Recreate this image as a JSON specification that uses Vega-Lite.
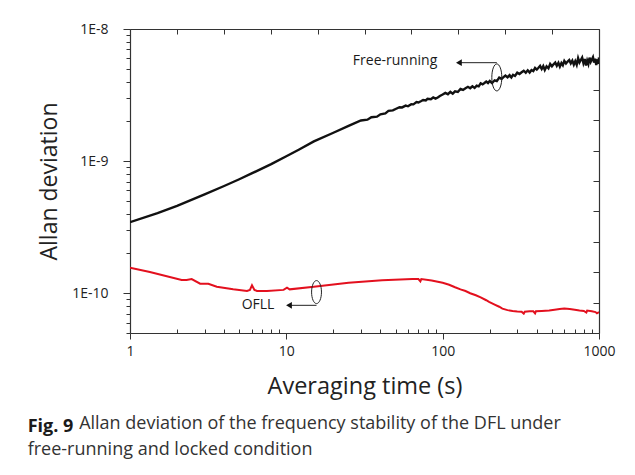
{
  "$schema": "https://vega.github.io/schema/vega-lite/v6.json",
  "width": 469,
  "height": 304,
  "autosize": {"type": "pad"},
  "padding": {"left": 27, "top": 22, "right": 5, "bottom": 5},
  "background": "white",
  "config": {
    "view": {"stroke": null},
    "font": "Open Sans",
    "axis": {"grid": false, "domainColor": "#333", "domainWidth": 1.2, "tickColor": "#333", "tickWidth": 1, "labelColor": "#222", "titleColor": "#222", "labelFont": "Open Sans", "titleFont": "Open Sans", "titleFontWeight": "normal", "labelOverlap": false, "labelFlush": false, "labelBound": false}
  },
  "title": {
    "text": "Fig. 9",
    "subtitle": ["\u200b\u00a0\u00a0\u00a0\u00a0\u00a0\u00a0\u00a0\u00a0\u00a0\u00a0\u00a0Allan deviation of the frequency stability of the DFL under", "free-running and locked condition"],
    "orient": "bottom",
    "anchor": "start",
    "frame": "bounds",
    "dx": -11,
    "offset": 20,
    "font": "Open Sans",
    "fontSize": 18,
    "fontWeight": "bold",
    "color": "#1a1a1a",
    "subtitleFont": "Open Sans",
    "subtitleFontSize": 18,
    "subtitleColor": "#333",
    "subtitleLineHeight": 26,
    "subtitlePadding": -21
  },
  "datasets": {
    "free": [
      {"t": 1, "adev": 3.45e-10}, {"t": 1.5, "adev": 4.04e-10}, {"t": 2, "adev": 4.58e-10}, {"t": 3, "adev": 5.61e-10},
      {"t": 4, "adev": 6.48e-10}, {"t": 5, "adev": 7.29e-10}, {"t": 6, "adev": 8.07e-10}, {"t": 8, "adev": 9.48e-10},
      {"t": 10, "adev": 1.089e-9}, {"t": 12, "adev": 1.22e-9}, {"t": 15, "adev": 1.41e-9}, {"t": 20, "adev": 1.64e-9},
      {"t": 25, "adev": 1.85e-9}, {"t": 30, "adev": 2.03e-9}, {"t": 33, "adev": 2.06e-9}, {"t": 35, "adev": 2.15e-9},
      {"t": 38, "adev": 2.17e-9}, {"t": 40, "adev": 2.26e-9}, {"t": 43, "adev": 2.3e-9}, {"t": 45, "adev": 2.4e-9},
      {"t": 48, "adev": 2.42e-9}, {"t": 50, "adev": 2.48e-9}, {"t": 53, "adev": 2.56e-9}, {"t": 55, "adev": 2.55e-9},
      {"t": 58, "adev": 2.63e-9}, {"t": 60, "adev": 2.6e-9}, {"t": 63, "adev": 2.7e-9}, {"t": 65, "adev": 2.69e-9},
      {"t": 68, "adev": 2.8e-9}, {"t": 70, "adev": 2.78e-9}, {"t": 73, "adev": 2.85e-9}, {"t": 75, "adev": 2.9e-9},
      {"t": 78, "adev": 2.88e-9}, {"t": 80, "adev": 2.96e-9}, {"t": 84, "adev": 2.94e-9}, {"t": 87, "adev": 3.03e-9},
      {"t": 90, "adev": 2.97e-9}, {"t": 93, "adev": 3.03e-9}, {"t": 96, "adev": 3.11e-9}, {"t": 100, "adev": 3.19e-9},
      {"t": 104, "adev": 3.28e-9}, {"t": 108, "adev": 3.21e-9}, {"t": 112, "adev": 3.34e-9}, {"t": 116, "adev": 3.24e-9},
      {"t": 120, "adev": 3.37e-9}, {"t": 125, "adev": 3.34e-9}, {"t": 130, "adev": 3.52e-9}, {"t": 135, "adev": 3.46e-9},
      {"t": 140, "adev": 3.56e-9}, {"t": 145, "adev": 3.65e-9}, {"t": 150, "adev": 3.56e-9}, {"t": 155, "adev": 3.68e-9},
      {"t": 160, "adev": 3.58e-9}, {"t": 165, "adev": 3.73e-9}, {"t": 170, "adev": 3.68e-9}, {"t": 175, "adev": 3.88e-9},
      {"t": 180, "adev": 3.81e-9}, {"t": 185, "adev": 3.9e-9}, {"t": 190, "adev": 4.0e-9}, {"t": 195, "adev": 3.9e-9},
      {"t": 200, "adev": 4.04e-9}, {"t": 207, "adev": 3.9e-9}, {"t": 215, "adev": 4.09e-9}, {"t": 222, "adev": 4.03e-9},
      {"t": 230, "adev": 4.29e-9}, {"t": 238, "adev": 4.19e-9}, {"t": 245, "adev": 4.32e-9}, {"t": 252, "adev": 4.44e-9},
      {"t": 260, "adev": 4.3e-9}, {"t": 268, "adev": 4.47e-9}, {"t": 275, "adev": 4.3e-9}, {"t": 282, "adev": 4.5e-9},
      {"t": 290, "adev": 4.41e-9}, {"t": 300, "adev": 4.67e-9}, {"t": 310, "adev": 4.56e-9}, {"t": 320, "adev": 4.7e-9},
      {"t": 330, "adev": 4.83e-9}, {"t": 340, "adev": 4.67e-9}, {"t": 350, "adev": 4.87e-9}, {"t": 360, "adev": 4.68e-9},
      {"t": 370, "adev": 4.89e-9}, {"t": 380, "adev": 4.8e-9}, {"t": 390, "adev": 5.07e-9}, {"t": 400, "adev": 4.93e-9},
      {"t": 410, "adev": 5.09e-9}, {"t": 420, "adev": 5.26e-9}, {"t": 430, "adev": 4.98e-9}, {"t": 440, "adev": 5.24e-9},
      {"t": 450, "adev": 4.9e-9}, {"t": 462, "adev": 5.22e-9}, {"t": 475, "adev": 5.04e-9}, {"t": 487, "adev": 5.44e-9},
      {"t": 500, "adev": 5.22e-9}, {"t": 512, "adev": 5.4e-9}, {"t": 525, "adev": 5.57e-9}, {"t": 537, "adev": 5.27e-9},
      {"t": 550, "adev": 5.55e-9}, {"t": 562, "adev": 5.19e-9}, {"t": 575, "adev": 5.52e-9}, {"t": 587, "adev": 5.32e-9},
      {"t": 600, "adev": 5.74e-9}, {"t": 615, "adev": 5.49e-9}, {"t": 630, "adev": 5.67e-9}, {"t": 645, "adev": 5.83e-9},
      {"t": 660, "adev": 5.5e-9}, {"t": 675, "adev": 5.76e-9}, {"t": 690, "adev": 5.37e-9}, {"t": 705, "adev": 5.71e-9},
      {"t": 720, "adev": 5.36e-9}, {"t": 735, "adev": 6.01e-9}, {"t": 750, "adev": 5.58e-9}, {"t": 765, "adev": 5.83e-9},
      {"t": 780, "adev": 6.08e-9}, {"t": 795, "adev": 5.52e-9}, {"t": 810, "adev": 5.93e-9}, {"t": 825, "adev": 5.3e-9},
      {"t": 840, "adev": 5.78e-9}, {"t": 855, "adev": 5.43e-9}, {"t": 870, "adev": 6.07e-9}, {"t": 885, "adev": 5.64e-9},
      {"t": 900, "adev": 5.88e-9}, {"t": 915, "adev": 6.12e-9}, {"t": 930, "adev": 5.57e-9}, {"t": 945, "adev": 5.97e-9},
      {"t": 960, "adev": 5.33e-9}, {"t": 975, "adev": 5.81e-9}, {"t": 990, "adev": 5.45e-9}, {"t": 1000, "adev": 6.09e-9}
    ],
    "ofll": [
      {"t": 1, "adev": 1.56e-10}, {"t": 1.34, "adev": 1.45e-10}, {"t": 2.14, "adev": 1.26e-10}, {"t": 2.3, "adev": 1.26e-10},
      {"t": 2.48, "adev": 1.28e-10}, {"t": 2.81, "adev": 1.18e-10}, {"t": 3.17, "adev": 1.18e-10}, {"t": 3.59, "adev": 1.12e-10},
      {"t": 4.57, "adev": 1.07e-10}, {"t": 5.6, "adev": 1.04e-10}, {"t": 5.85, "adev": 1.06e-10}, {"t": 6.03, "adev": 1.15e-10},
      {"t": 6.25, "adev": 1.06e-10}, {"t": 6.49, "adev": 1.04e-10}, {"t": 7.52, "adev": 1.04e-10}, {"t": 9.6, "adev": 1.06e-10},
      {"t": 10.1, "adev": 1.1e-10}, {"t": 10.5, "adev": 1.07e-10}, {"t": 15, "adev": 1.12e-10}, {"t": 25, "adev": 1.2e-10},
      {"t": 41, "adev": 1.255e-10}, {"t": 64, "adev": 1.28e-10}, {"t": 70, "adev": 1.28e-10}, {"t": 72, "adev": 1.23e-10},
      {"t": 73, "adev": 1.28e-10}, {"t": 85, "adev": 1.25e-10}, {"t": 100, "adev": 1.2e-10}, {"t": 110, "adev": 1.16e-10},
      {"t": 120, "adev": 1.11e-10}, {"t": 130, "adev": 1.07e-10}, {"t": 140, "adev": 1.04e-10}, {"t": 150, "adev": 1.0e-10},
      {"t": 163, "adev": 9.66e-11}, {"t": 175, "adev": 9.3e-11}, {"t": 190, "adev": 8.85e-11}, {"t": 198, "adev": 8.6e-11},
      {"t": 215, "adev": 8.2e-11}, {"t": 230, "adev": 7.9e-11}, {"t": 241, "adev": 7.65e-11}, {"t": 260, "adev": 7.45e-11},
      {"t": 280, "adev": 7.35e-11}, {"t": 300, "adev": 7.28e-11}, {"t": 320, "adev": 7.25e-11}, {"t": 330, "adev": 7.0e-11},
      {"t": 335, "adev": 7.25e-11}, {"t": 360, "adev": 7.3e-11}, {"t": 380, "adev": 7.3e-11}, {"t": 390, "adev": 7.05e-11},
      {"t": 395, "adev": 7.3e-11}, {"t": 430, "adev": 7.35e-11}, {"t": 480, "adev": 7.4e-11}, {"t": 520, "adev": 7.5e-11},
      {"t": 560, "adev": 7.6e-11}, {"t": 600, "adev": 7.65e-11}, {"t": 650, "adev": 7.6e-11}, {"t": 700, "adev": 7.5e-11},
      {"t": 750, "adev": 7.4e-11}, {"t": 800, "adev": 7.35e-11}, {"t": 830, "adev": 7.15e-11}, {"t": 840, "adev": 7.4e-11},
      {"t": 900, "adev": 7.3e-11}, {"t": 950, "adev": 7.2e-11}, {"t": 970, "adev": 7.05e-11}, {"t": 1000, "adev": 7.2e-11}
    ]
  },
  "layer": [
    {
      "layer": [
        {
          "data": {"name": "ofll"},
          "mark": {"type": "line", "color": "#e3101e", "strokeWidth": 2, "clip": true},
          "encoding": {
            "x": {"field": "t", "type": "quantitative", "scale": {"type": "log", "domain": [1, 1000], "nice": false},
              "axis": {"orient": "bottom", "title": "Averaging time (s)", "titleFontSize": 23.5, "titlePadding": 16,
                "values": [1,2,3,4,5,6,7,8,9,10,20,30,40,50,60,70,80,90,100,200,300,400,500,600,700,800,900,1000],
                "labelExpr": "abs(log(datum.value)/LN10 - round(log(datum.value)/LN10)) < 0.001 ? format(datum.value, 'd') : ''",
                "labelFontSize": 14, "labelPadding": 5,
                "tickSize": {"condition": {"test": "abs(log(datum.value)/LN10 - round(log(datum.value)/LN10)) < 0.001", "value": 6}, "value": -4}}},
            "y": {"field": "adev", "type": "quantitative", "scale": {"type": "log", "domain": [5e-11, 1e-8], "nice": false},
              "axis": {"orient": "left", "title": "Allan deviation", "titleFontSize": 23, "titlePadding": 10,
                "values": [5e-11,6e-11,7e-11,8e-11,9e-11,1e-10,2e-10,3e-10,4e-10,5e-10,6e-10,7e-10,8e-10,9e-10,1e-9,2e-9,3e-9,4e-9,5e-9,6e-9,7e-9,8e-9,9e-9,1e-8],
                "labelExpr": "abs(log(datum.value)/LN10 - round(log(datum.value)/LN10)) < 0.001 ? upper(format(datum.value, '.0e')) : ''",
                "labelFontSize": 14, "labelPadding": 15,
                "tickSize": {"condition": {"test": "abs(log(datum.value)/LN10 - round(log(datum.value)/LN10)) < 0.001", "value": 7}, "value": 4}}}
          }
        },
        {
          "data": {"name": "free"},
          "mark": {"type": "line", "color": "#111", "strokeWidth": 2.4, "clip": true},
          "encoding": {
            "x": {"field": "t", "type": "quantitative"},
            "y": {"field": "adev", "type": "quantitative"}
          }
        },
        {
          "data": {"values": [{"t": 49.6, "adev": 5.73e-9, "label": "Free-running"}, {"t": 6.59, "adev": 8.11e-11, "label": "OFLL"}]},
          "mark": {"type": "text", "font": "Open Sans", "fontSize": 14, "color": "#1a1a1a", "align": "center", "baseline": "middle"},
          "encoding": {
            "x": {"field": "t", "type": "quantitative"},
            "y": {"field": "adev", "type": "quantitative"},
            "text": {"field": "label"}
          }
        },
        {
          "data": {"values": [{"t": 127, "t2": 222, "adev": 5.56e-9}, {"t": 10.4, "t2": 15.6, "adev": 8.1e-11}]},
          "mark": {"type": "rule", "color": "#222", "strokeWidth": 1},
          "encoding": {
            "x": {"field": "t", "type": "quantitative"},
            "x2": {"field": "t2"},
            "y": {"field": "adev", "type": "quantitative"}
          }
        },
        {
          "data": {"values": [{"t": 127, "adev": 5.56e-9}, {"t": 10.4, "adev": 8.1e-11}]},
          "mark": {"type": "point", "shape": "triangle-left", "filled": true, "color": "#111", "size": 45, "opacity": 1},
          "encoding": {
            "x": {"field": "t", "type": "quantitative"},
            "y": {"field": "adev", "type": "quantitative"}
          }
        },
        {
          "data": {"values": [{"t": 222, "adev": 4.3e-9}]},
          "mark": {"type": "point", "shape": "M -0.37 0 A 0.37 1 0 1 1 0.37 0 A 0.37 1 0 1 1 -0.37 0 Z", "filled": false, "color": "#222", "strokeWidth": 1, "size": 729, "opacity": 1},
          "encoding": {
            "x": {"field": "t", "type": "quantitative"},
            "y": {"field": "adev", "type": "quantitative"}
          }
        },
        {
          "data": {"values": [{"t": 15.6, "adev": 1.02e-10}]},
          "mark": {"type": "point", "shape": "M -0.43 0 A 0.43 1 0 1 1 0.43 0 A 0.43 1 0 1 1 -0.43 0 Z", "filled": false, "color": "#222", "strokeWidth": 1, "size": 529, "opacity": 1},
          "encoding": {
            "x": {"field": "t", "type": "quantitative"},
            "y": {"field": "adev", "type": "quantitative"}
          }
        }
      ]
    },
    {
      "data": {"values": [{"u": 0}, {"u": 10}]},
      "mark": {"type": "point", "opacity": 0},
      "encoding": {
        "x": {"field": "u", "type": "quantitative", "scale": {"domain": [0, 10], "nice": false, "zero": false},
          "axis": {"orient": "top", "title": null, "labels": false, "values": [0,1,2,3,4,5,6,7,8,9,10], "tickSize": -5}},
        "y": {"field": "u", "type": "quantitative", "scale": {"domain": [0, 10], "nice": false, "zero": false},
          "axis": {"orient": "right", "title": null, "labels": false, "values": [0,1,2,3,4,5,6,7,8,9,10], "tickSize": -6}}
      }
    }
  ],
  "resolve": {"scale": {"x": "independent", "y": "independent"}}
}
